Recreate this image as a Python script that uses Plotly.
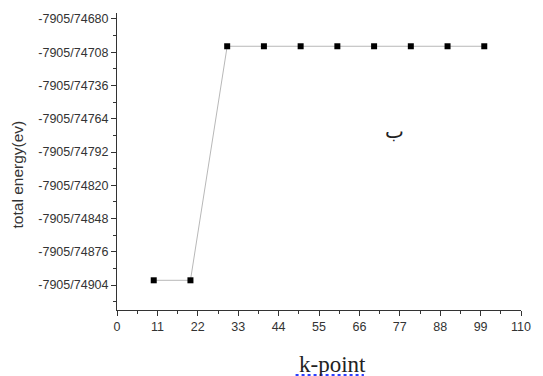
import plotly.graph_objects as go

# k-point convergence: total energy per k-point sampling
k_points = [10, 20, 30, 40, 50, 60, 70, 80, 90, 100]
total_energy = [-7905.74900, -7905.74900, -7905.74703, -7905.74703, -7905.74703,
                -7905.74703, -7905.74703, -7905.74703, -7905.74703, -7905.74703]

y_tick_vals = [-7905.74680, -7905.74708, -7905.74736, -7905.74764, -7905.74792,
               -7905.74820, -7905.74848, -7905.74876, -7905.74904]
y_tick_text = ["-7905/74680", "-7905/74708", "-7905/74736", "-7905/74764", "-7905/74792",
               "-7905/74820", "-7905/74848", "-7905/74876", "-7905/74904"]
x_tick_vals = [0, 11, 22, 33, 44, 55, 66, 77, 88, 99, 110]

W, H = 543, 376
L, R, T, B = 117, 12, 13, 66

fig = go.Figure()
fig.add_trace(go.Scatter(
    x=k_points, y=total_energy, mode="lines+markers",
    line=dict(color="#b8b8b8", width=1),
    marker=dict(symbol="square", size=6, color="black"),
    showlegend=False,
))

tick_font = dict(family="Liberation Sans, Arial, sans-serif", size=12.5, color="#333333")

fig.update_layout(
    width=W, height=H,
    margin=dict(l=L, r=R, t=T, b=B),
    paper_bgcolor="white", plot_bgcolor="white",
    xaxis=dict(
        range=[0, 110], tickmode="array", tickvals=x_tick_vals,
        ticks="outside", ticklen=5, tickcolor="#333", tickwidth=1,
        minor=dict(dtick=5.5, tick0=0, ticks="outside", ticklen=3, tickcolor="#333"),
        showline=True, linecolor="#333", linewidth=1,
        showgrid=False, zeroline=False, tickfont=tick_font,
    ),
    yaxis=dict(
        range=[-7905.74925, -7905.74675], tickmode="array",
        tickvals=y_tick_vals, ticktext=y_tick_text,
        ticks="outside", ticklen=5, tickcolor="#333", tickwidth=1,
        minor=dict(dtick=0.00014, tick0=-7905.74680, ticks="outside", ticklen=3, tickcolor="#333"),
        showline=True, linecolor="#333", linewidth=1,
        showgrid=False, zeroline=False, tickfont=tick_font,
    ),
)

# Axis titles and panel letter
fig.add_annotation(
    xref="paper", yref="paper", x=(15 - L) / (W - L - R), y=(H - B - 174) / (H - T - B),
    text="total energy(ev)", textangle=-90, showarrow=False,
    font=dict(family="Liberation Sans, Arial, sans-serif", size=15.5, color="#333333"),
    xanchor="center", yanchor="middle",
)
fig.add_annotation(
    xref="paper", yref="paper", x=(338 - L) / (W - L - R), y=-(364 - (H - B)) / (H - T - B),
    text="k-point", showarrow=False,
    font=dict(family="Liberation Serif, Times New Roman, serif", size=23, color="#222222"),
    xanchor="center", yanchor="middle",
)
fig.add_annotation(
    xref="paper", yref="paper", x=(401 - L) / (W - L - R), y=(H - B - 131) / (H - T - B),
    text="ب", showarrow=False,
    font=dict(family="DejaVu Sans, sans-serif", size=20, color="#222222"),
    xanchor="center", yanchor="middle",
)

# Underline beneath the x title
fig.add_shape(
    type="line", xref="paper", yref="paper",
    x0=(300 - L) / (W - L - R), x1=(370 - L) / (W - L - R),
    y0=-(375 - (H - B)) / (H - T - B), y1=-(375 - (H - B)) / (H - T - B),
    line=dict(color="#2a3fff", width=2, dash="dot"),
)

fig.write_html("out.html")
